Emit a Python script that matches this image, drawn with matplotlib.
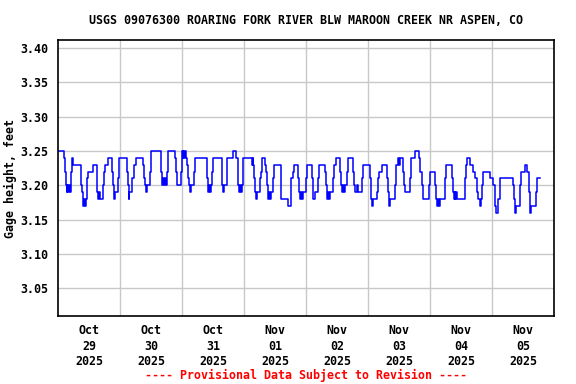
import matplotlib
matplotlib.use("Agg")
import matplotlib.pyplot as plt
import numpy as np
from datetime import datetime, timedelta

# ---- data (hours since 2025-10-29 00:00, gage height ft), step series ----
hours = [
    0.0, 2.45, 2.8, 3.0, 3.3, 3.6, 3.9, 4.3, 4.6, 4.9, 5.2, 5.5, 5.9, 8.8, 9.0, 9.3, 9.6, 9.8,
    10.1, 10.4, 10.8, 11.1, 11.4, 11.7, 13.4, 15.0, 15.2, 15.5, 15.8, 16.1, 17.5, 17.9, 18.2,
    19.5, 21.0, 21.3, 21.6, 22.1, 23.4, 23.8, 26.6, 27.0, 27.3, 27.6, 28.8, 29.3, 30.1, 33.0,
    33.3, 33.7, 34.0, 34.3, 35.5, 35.9, 39.7, 40.0, 40.4, 40.7, 41.0, 41.4, 41.7, 42.0, 42.4,
    45.3, 45.6, 45.9, 47.5, 47.9, 48.2, 48.5, 48.8, 49.1, 49.5, 49.8, 50.2, 50.5, 50.8, 51.2,
    51.5, 52.8, 53.2, 57.5, 57.8, 58.2, 58.5, 58.9, 59.2, 59.6, 59.9, 63.4, 63.6, 63.9, 64.2,
    65.3, 65.6, 67.9, 68.9, 69.5, 69.8, 70.2, 70.5, 70.8, 71.2, 71.5, 71.8, 75.0, 75.3, 75.6,
    76.0, 76.4, 76.7, 77.0, 78.2, 78.6, 79.1, 80.1, 80.5, 81.0, 81.3, 81.6, 82.0, 82.4, 83.3,
    83.6, 86.2, 86.5, 89.2, 90.0, 90.3, 90.8, 91.4, 93.0, 93.3, 93.7, 94.2, 94.6, 95.0, 96.0,
    96.2, 98.2, 98.6, 99.5, 100.8, 101.2, 103.3, 103.7, 104.1, 104.5, 104.9, 105.3, 106.6,
    107.0, 107.6, 109.0, 109.4, 109.8, 110.3, 110.6, 111.0, 112.0, 112.4, 114.3, 114.7, 115.0,
    115.8, 116.3, 117.5, 117.9, 120.8, 121.2, 121.5, 121.8, 123.3, 123.8, 124.4, 125.3, 127.5,
    127.8, 128.1, 128.4, 130.5, 130.8, 131.8, 132.1, 132.4, 133.7, 134.0, 134.3, 136.3, 136.6,
    138.2, 139.7, 140.3, 141.0, 141.4, 143.7, 144.0, 146.0, 146.3, 146.7, 147.0, 147.4, 147.8,
    149.8, 150.2, 152.4, 152.8, 153.1, 153.5, 153.8, 154.2, 154.5, 157.6, 158.0, 158.5, 159.5,
    160.5, 161.4, 162.3, 162.7, 163.2, 163.6, 164.0, 164.4, 167.2, 168.5, 169.2, 169.5, 170.4,
    171.0, 176.2, 176.6, 177.0, 177.3, 178.8, 179.2, 180.8, 181.6, 182.2, 182.6, 183.0, 184.9,
    185.3, 186.6,
]
gage = [
    3.25, 3.24, 3.22, 3.20, 3.19, 3.20, 3.19, 3.20, 3.19, 3.21, 3.22, 3.24, 3.23, 3.22, 3.20, 3.19, 3.18, 3.17,
    3.18, 3.17, 3.18, 3.19, 3.21, 3.22, 3.23, 3.22, 3.19, 3.18, 3.19, 3.18, 3.20, 3.22, 3.23,
    3.24, 3.22, 3.20, 3.18, 3.19, 3.21, 3.24, 3.22, 3.20, 3.18, 3.19, 3.21, 3.23, 3.24, 3.23,
    3.21, 3.20, 3.19, 3.20, 3.22, 3.25, 3.24, 3.22, 3.20, 3.21, 3.20, 3.21, 3.20, 3.22, 3.25,
    3.24, 3.22, 3.20, 3.22, 3.25, 3.24, 3.25, 3.24, 3.25, 3.24, 3.23, 3.22, 3.21, 3.20, 3.19,
    3.20, 3.22, 3.24, 3.23, 3.21, 3.19, 3.20, 3.19, 3.20, 3.22, 3.24, 3.22, 3.20, 3.19, 3.20,
    3.22, 3.24, 3.25, 3.24, 3.22, 3.20, 3.19, 3.20, 3.19, 3.20, 3.22, 3.24, 3.23, 3.24, 3.23,
    3.21, 3.19, 3.18, 3.19, 3.21, 3.22, 3.24, 3.23, 3.22, 3.20, 3.18, 3.19, 3.18, 3.19, 3.21,
    3.23, 3.21, 3.18, 3.17, 3.19, 3.21, 3.22, 3.23, 3.21, 3.19, 3.18, 3.19, 3.18, 3.19, 3.21,
    3.23, 3.21, 3.18, 3.19, 3.21, 3.23, 3.22, 3.20, 3.18, 3.19, 3.18, 3.19, 3.21,
    3.23, 3.24, 3.22, 3.20, 3.19, 3.20, 3.19, 3.20, 3.22, 3.24, 3.22, 3.20, 3.19,
    3.20, 3.19, 3.21, 3.23, 3.21, 3.18, 3.17, 3.18, 3.19, 3.21, 3.22, 3.23, 3.21,
    3.19, 3.17, 3.18, 3.20, 3.23, 3.24, 3.23, 3.24, 3.22, 3.20, 3.19, 3.21, 3.24,
    3.25, 3.24, 3.22, 3.20, 3.18, 3.20, 3.22, 3.20, 3.18, 3.17, 3.18, 3.17, 3.18,
    3.21, 3.23, 3.21, 3.19, 3.18, 3.19, 3.18, 3.19, 3.18, 3.21, 3.23, 3.24, 3.23,
    3.22, 3.21, 3.19, 3.18, 3.17, 3.18, 3.20, 3.22, 3.21, 3.20, 3.17, 3.16, 3.18,
    3.21, 3.20, 3.18, 3.16, 3.17, 3.20, 3.22, 3.23, 3.22, 3.19, 3.16, 3.17, 3.19,
    3.21, 3.21,
]
title = "USGS 09076300 ROARING FORK RIVER BLW MAROON CREEK NR ASPEN, CO"
ylabel = "Gage height, feet"
footer = "---- Provisional Data Subject to Revision ----"
yticks = [3.05, 3.10, 3.15, 3.20, 3.25, 3.30, 3.35, 3.40]
day_labels = ["Oct\n29\n2025", "Oct\n30\n2025", "Oct\n31\n2025", "Nov\n01\n2025",
              "Nov\n02\n2025", "Nov\n03\n2025", "Nov\n04\n2025", "Nov\n05\n2025"]

start = datetime(2025, 10, 29)
times = [start + timedelta(hours=h) for h in hours]

font = {"family": "DejaVu Sans Mono", "weight": "bold", "size": 8.4}

fig = plt.figure(figsize=(5.76, 3.84), dpi=100)
ax = fig.add_axes([58/576, 1 - 316/384, 496/576, 276/384])

ax.step(times, gage, where="post", color="#0000ff", lw=1.1)

ax.set_xlim(start, start + timedelta(days=8))
ax.set_ylim(3.0098, 3.4116)

ax.set_yticks(yticks)
ax.set_yticklabels([f"{v:.2f}" for v in yticks], fontdict=font)
noon = [start + timedelta(days=i, hours=12) for i in range(len(day_labels))]
mid = [start + timedelta(days=i) for i in range(1, 8)]
ax.set_xticks(noon)
ax.set_xticklabels(day_labels, fontdict=font, linespacing=1.25)
ax.set_xticks(mid, minor=True)
ax.tick_params(axis="both", which="both", length=0)
ax.tick_params(axis="y", pad=7)
ax.tick_params(axis="x", pad=6)
ax.grid(True, axis="y", which="major", color="#c8c8c8", lw=1.0)
ax.grid(True, axis="x", which="minor", color="#c8c8c8", lw=1.0)
ax.grid(False, axis="x", which="major")
ax.set_axisbelow(True)
for s in ax.spines.values():
    s.set_linewidth(1.2)
    s.set_color("black")

ax.set_ylabel(ylabel, fontdict=font)
ax.yaxis.set_label_coords((17 - 58) / 496, 0.5)
fig.text(306/576, 1 - 20/384, title, ha="center", va="center", **font)
fig.text(306/576, 1 - 375/384, footer, ha="center", va="center", color="red", **font)

fig.savefig("out.png", dpi=100)
